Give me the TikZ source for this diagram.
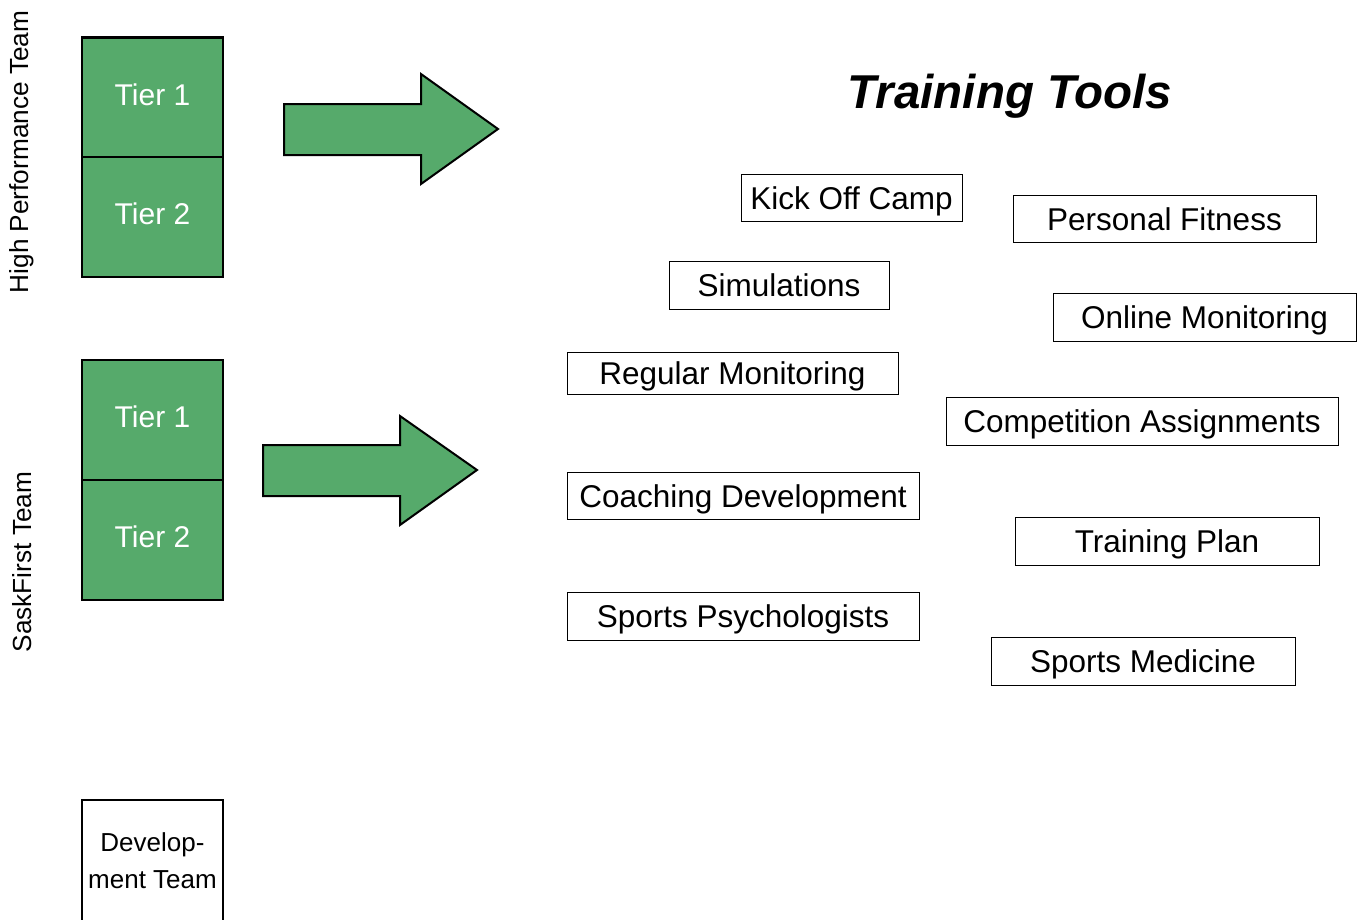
\documentclass[tikz,border=0pt]{standalone}
\usepackage{fontspec}
\setmainfont{Liberation Sans}
\definecolor{tiergreen}{RGB}{86,170,107}
\tikzset{
  tierbox/.style={draw=black, line width=2.2pt, fill=tiergreen, minimum width=141pt, minimum height=120pt, inner sep=0pt, text=white, font=\fontsize{30}{34}\selectfont, text height=21.5pt, text depth=6pt},
  toolbox/.style={draw=black, line width=1pt, fill=white, inner sep=0pt, font=\fontsize{31.5}{36}\selectfont, text height=23pt, text depth=0pt},
  sidelabel/.style={rotate=90, inner sep=0pt, font=\fontsize{26.2}{30}\selectfont},
  bigarrow/.style={draw=black, line width=2pt, fill=tiergreen, line join=miter},
}
\begin{document}
\begin{tikzpicture}[x=1pt, y=-1pt]
\useasboundingbox (0,0) rectangle (1360,919);
\clip (0,0) rectangle (1360,919);
% side labels
\node[sidelabel] (hpt) at (22,152) {High Performance Team};
\node[sidelabel] (sft) at (22,562) {SaskFirst Team};
% tier boxes
\node[tierbox] (hp1) at (152.5,97.5) {Tier 1};
\node[tierbox] (hp2) at (152.5,217) {Tier 2};
\node[tierbox] (sf1) at (152.5,420) {Tier 1};
\node[tierbox] (sf2) at (152.5,540) {Tier 2};
% development box
\node[inner sep=0pt, minimum width=141pt, align=center, font=\fontsize{26}{37}\selectfont] (dev) at (152.5,861) {Develop-\\ment Team};
\draw[line width=2.2pt] (82,930) -- (82,800) -- (223,800) -- (223,930);
% arrows
\draw[bigarrow] (284,104) -- (421,104) -- (421,74) -- (498,129) -- (421,184) -- (421,155) -- (284,155) -- cycle;
\draw[bigarrow] (263,445) -- (400,445) -- (400,416) -- (477,470) -- (400,525) -- (400,496) -- (263,496) -- cycle;
% title
\node[inner sep=0pt, font=\fontsize{47.5}{52}\selectfont\bfseries\itshape, text height=35pt, text depth=0pt] (title) at (1010,91) {Training Tools};
% tools
\node[toolbox, minimum width=221pt, minimum height=47pt] (koc) at (851.5,197.5) {Kick Off Camp};
\node[toolbox, minimum width=303pt, minimum height=47pt] (pf) at (1164.5,218.5) {Personal Fitness};
\node[toolbox, minimum width=220pt, minimum height=48pt] (sim) at (779,285) {Simulations};
\node[toolbox, minimum width=303pt, minimum height=48pt] (om) at (1204.5,317) {Online Monitoring};
\node[toolbox, minimum width=331pt, minimum height=42pt] (rm) at (732.5,373) {Regular Monitoring};
\node[toolbox, minimum width=392pt, minimum height=48pt] (ca) at (1142,421) {Competition Assignments};
\node[toolbox, minimum width=352pt, minimum height=47pt] (cd) at (743,495.5) {Coaching Development};
\node[toolbox, minimum width=304pt, minimum height=48pt] (tp) at (1167,541) {Training Plan};
\node[toolbox, minimum width=352pt, minimum height=48pt] (sp) at (743,616) {Sports Psychologists};
\node[toolbox, minimum width=304pt, minimum height=48pt] (sm) at (1143,661) {Sports Medicine};
\end{tikzpicture}
\end{document}
